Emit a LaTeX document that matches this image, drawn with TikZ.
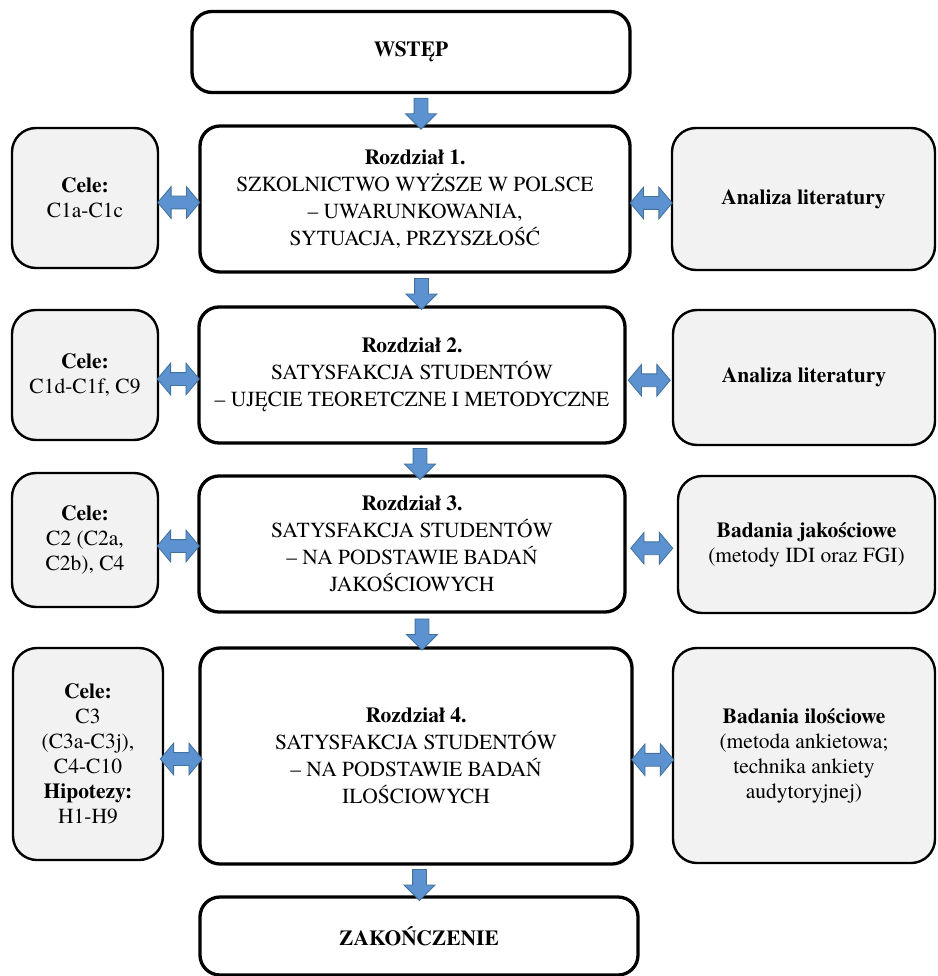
\documentclass[tikz,border=0pt]{standalone}
\usepackage{fontspec}
\setmainfont{TeX Gyre Termes}
\usetikzlibrary{calc,shapes.arrows}

\definecolor{boxgrey}{HTML}{F2F2F2}
\definecolor{arrfill}{HTML}{5B92CF}
\definecolor{arrline}{HTML}{41719C}

\tikzset{
  mainbox/.style={draw, line width=3.3pt, rounded corners=20pt, fill=white,
    align=center, inner sep=0pt, font=\fontsize{21.5}{27}\selectfont},
  sidebox/.style={draw, line width=2.4pt, rounded corners=24pt, fill=boxgrey,
    align=center, inner sep=0pt, font=\fontsize{21.5}{25}\selectfont},
  downarr/.style={single arrow, draw=arrline, fill=arrfill, line width=0.8pt,
    rotate=-90, inner sep=6.5pt, minimum width=30pt, minimum height=31pt,
    single arrow head extend=8.5pt},
  sidearr/.style={double arrow, draw=arrline, fill=arrfill, line width=0.8pt,
    inner sep=6pt, minimum width=31pt, minimum height=42pt,
    double arrow head extend=9.5pt, double arrow tip angle=100}
}

\begin{document}
\begin{tikzpicture}[x=1pt, y=-1pt]
  \useasboundingbox (0,0) rectangle (937,976);

  %%%%% main column %%%%%
  \node[mainbox, minimum width=438, minimum height=81] (wstep) at (411,52) {\textbf{WSTĘP}};
  \node[mainbox, minimum width=430, minimum height=146] (r1) at (415,199)
    {\textbf{Rozdział 1.}\\SZKOLNICTWO WYŻSZE W POLSCE\\– UWARUNKOWANIA,\\SYTUACJA, PRZYSZŁOŚĆ};
  \node[mainbox, minimum width=426, minimum height=136] (r2) at (412,375)
    {\textbf{Rozdział 2.}\\SATYSFAKCJA STUDENTÓW\\– UJĘCIE TEORETCZNE I METODYCZNE};
  \node[mainbox, minimum width=426, minimum height=136] (r3) at (412,544)
    {\textbf{Rozdział 3.}\\SATYSFAKCJA STUDENTÓW\\– NA PODSTAWIE BADAŃ\\JAKOŚCIOWYCH};
  \node[mainbox, minimum width=432, minimum height=216] (r4) at (416,756)
    {\textbf{Rozdział 4.}\\SATYSFAKCJA STUDENTÓW\\– NA PODSTAWIE BADAŃ\\ILOŚCIOWYCH};
  \node[mainbox, minimum width=438, minimum height=78] (zak) at (419,936) {\textbf{ZAKOŃCZENIE}};

  %%%%% left column %%%%%
  \node[sidebox, minimum width=146, minimum height=140] (l1) at (85,198) {\textbf{Cele:}\\C1a-C1c};
  \node[sidebox, minimum width=146, minimum height=130] (l2) at (85,375) {\textbf{Cele:}\\C1d-C1f, C9};
  \node[sidebox, minimum width=146, minimum height=134] (l3) at (85,540) {\textbf{Cele:}\\C2 (C2a,\\C2b), C4};
  \node[sidebox, minimum width=150, minimum height=212] (l4) at (88,754)
    {\textbf{Cele:}\\C3\\(C3a-C3j),\\C4-C10\\\textbf{Hipotezy:}\\H1-H9};

  %%%%% right column %%%%%
  \node[sidebox, minimum width=263, minimum height=142] (p1) at (803.5,199) {\textbf{Analiza literatury}};
  \node[sidebox, minimum width=262, minimum height=135] (p2) at (804,377.5) {\textbf{Analiza literatury}};
  \node[sidebox, minimum width=257, minimum height=137] (p3) at (806.5,544.5)
    {\textbf{Badania jakościowe}\\(metody IDI oraz FGI)};
  \node[sidebox, minimum width=262, minimum height=215] (p4) at (804,755.5)
    {\textbf{Badania ilościowe}\\(metoda ankietowa;\\technika ankiety\\audytoryjnej)};

  %%%%% arrows down %%%%%
  \node[downarr] (d1) at ($(wstep.south)!0.5!(r1.north)+(8,1)$) {};
  \node[downarr] (d2) at ($(r1.south)!0.5!(r2.north)+(8,1)$) {};
  \node[downarr] (d3) at ($(r2.south)!0.5!(r3.north)+(8,1)$) {};
  \node[downarr] (d4) at ($(r3.south)!0.5!(r4.north)+(8,1)$) {};
  \node[downarr] (d5) at ($(r4.south)!0.5!(zak.north)+(2,1)$) {};

  %%%%% arrows both ways %%%%%
  \foreach \a/\b in {l1/r1, l2/r2, l3/r3, l4/r4, r1/p1, r2/p2, r3/p3, r4/p4}
    \node[sidearr] at ($(\a.east)!0.5!(\b.west)+(0,4)$) {};
\end{tikzpicture}
\end{document}
